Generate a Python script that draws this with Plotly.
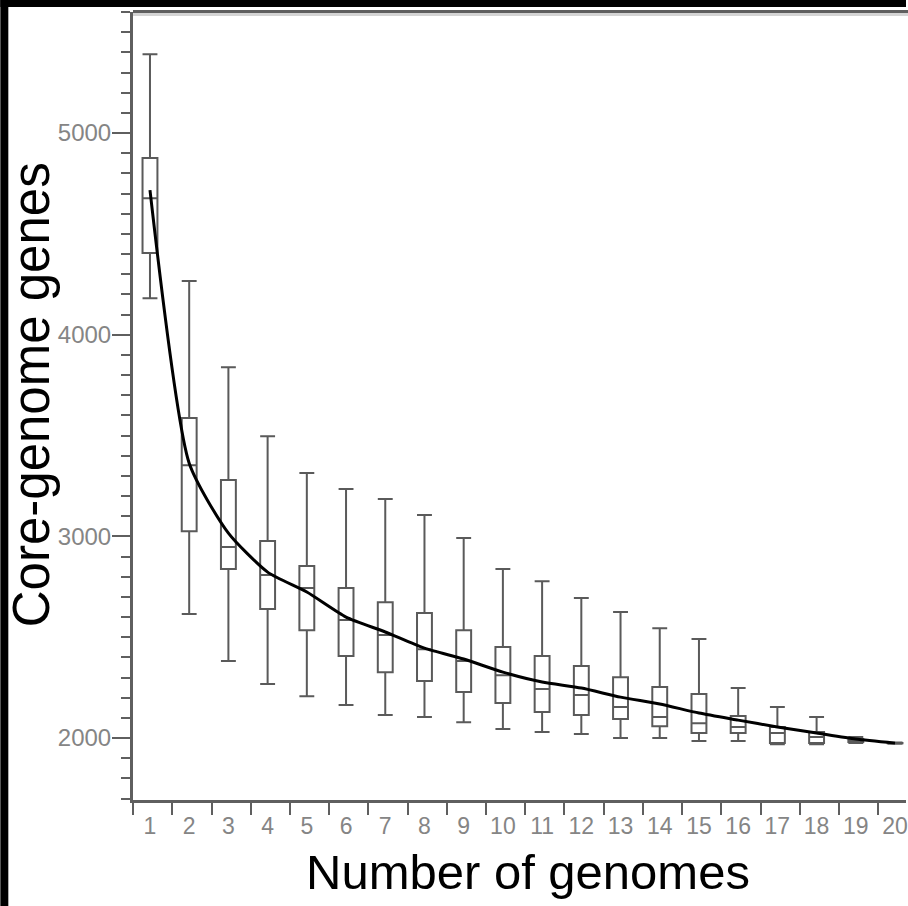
import plotly.graph_objects as go

# ---- data ----
n_genomes = list(range(1, 21))
upper_whisker = [5391, 4266, 3839, 3497, 3314, 3235, 3185, 3106, 2992, 2838,
                 2778, 2694, 2625, 2545, 2491, 2248, 2154, 2104, 2005, 1978]
q3_values = [4876, 3587, 3279, 2977, 2853, 2744, 2674, 2620, 2535, 2451,
             2407, 2357, 2302, 2253, 2218, 2109, 2055, 2030, 1995, 1976]
median_values = [4677, 3353, 2947, 2808, 2744, 2585, 2511, 2441, 2382, 2312,
                 2243, 2213, 2154, 2104, 2074, 2055, 2025, 2005, 1985, 1975]
q1_values = [4405, 3026, 2838, 2640, 2535, 2407, 2327, 2283, 2228, 2174,
             2129, 2114, 2094, 2059, 2025, 2025, 1975, 1975, 1980, 1974]
lower_whisker = [4181, 2615, 2382, 2268, 2208, 2164, 2114, 2104, 2079, 2045,
                 2030, 2020, 2000, 2000, 1985, 1985, 1970, 1970, 1975, 1972]
mean_values = [4717, 3363, 3016, 2823, 2724, 2600, 2526, 2446, 2392, 2327,
               2278, 2248, 2203, 2169, 2124, 2089, 2055, 2025, 1995, 1975]
y_tick_values = [2000, 3000, 4000, 5000]
y_tick_labels = ["2000", "3000", "4000", "5000"]
x_tick_labels = [str(n) for n in n_genomes]

# ---- layout geometry (pixels) ----
W, H = 908, 906
L, R, T, B = 133, 0, 12, 106
PW, PH = W - L - R, H - T - B


def px_x(p):
    return (p - L) / PW


def px_y(p):
    return (H - B - p) / PH


axis_grey = "#5f5f5f"
label_grey = "#858585"
tick_font = "Liberation Sans Narrow, Arial Narrow, Liberation Sans, Arial, sans-serif"
title_font = "Liberation Sans, Arial, Helvetica, sans-serif"

fig = go.Figure()

fig.add_trace(go.Box(
    x=n_genomes,
    q1=q1_values,
    median=median_values,
    q3=q3_values,
    lowerfence=lower_whisker,
    upperfence=upper_whisker,
    width=0.38,
    whiskerwidth=1,
    boxpoints=False,
    fillcolor="white",
    line=dict(color="#5a5a5a", width=2),
    hoverinfo="skip",
    showlegend=False,
))

fig.add_trace(go.Scatter(
    x=n_genomes,
    y=mean_values,
    mode="lines",
    line=dict(color="black", width=3, shape="spline", smoothing=0.6),
    hoverinfo="skip",
    showlegend=False,
))

fig.update_layout(
    width=W, height=H,
    margin=dict(l=L, r=R, t=T, b=B, pad=0),
    paper_bgcolor="white",
    plot_bgcolor="white",
    showlegend=False,
    xaxis=dict(
        range=[0.567, 20.28],
        tickmode="array",
        tickvals=n_genomes,
        ticktext=x_tick_labels,
        ticks="",
        showgrid=False,
        zeroline=False,
        showline=True,
        linecolor=axis_grey,
        linewidth=3,
        tickfont=dict(family=tick_font, size=23, color=label_grey),
        ticklabelstandoff=3,
        ticklabeloverflow="allow",
        minor=dict(
            tickmode="array",
            tickvals=[n + 0.57 for n in range(0, 20)],
            ticks="outside",
            ticklen=12,
            tickwidth=2,
            tickcolor=axis_grey,
            showgrid=False,
        ),
    ),
    yaxis=dict(
        range=[1693, 5600],
        tickmode="array",
        tickvals=y_tick_values,
        ticktext=y_tick_labels,
        ticks="outside",
        ticklen=18,
        tickwidth=2,
        tickcolor=axis_grey,
        showgrid=False,
        zeroline=False,
        showline=True,
        linecolor=axis_grey,
        linewidth=3,
        tickfont=dict(family=tick_font, size=24, color=label_grey),
        ticklabelstandoff=-4,
        minor=dict(
            dtick=100,
            ticks="outside",
            ticklen=9,
            tickwidth=2,
            tickcolor=axis_grey,
            showgrid=False,
        ),
    ),
    annotations=[
        dict(text="Core-genome genes", xref="paper", yref="paper",
             x=px_x(31), y=px_y(395), xanchor="center", yanchor="middle",
             textangle=-90, showarrow=False,
             font=dict(family=title_font, size=51, color="black")),
        dict(text="Number of genomes", xref="paper", yref="paper",
             x=px_x(529), y=px_y(872), xanchor="center", yanchor="middle",
             showarrow=False,
             font=dict(family=title_font, size=49, color="black")),
    ],
    shapes=[
        # top frame line of the plot area
        dict(type="line", xref="paper", yref="paper", x0=0, x1=1.02,
             y0=px_y(14.5), y1=px_y(14.5), line=dict(color="#d4d4d4", width=3)),
        dict(type="line", xref="paper", yref="paper", x0=0, x1=1.02,
             y0=px_y(11.5), y1=px_y(11.5), line=dict(color=axis_grey, width=3)),
        # black outer border strips
        dict(type="rect", xref="paper", yref="paper", x0=px_x(0), x1=px_x(8),
             y0=px_y(H), y1=px_y(0), fillcolor="black", line=dict(width=0),
             layer="above"),
        dict(type="rect", xref="paper", yref="paper", x0=px_x(0), x1=px_x(W),
             y0=px_y(7), y1=px_y(0), fillcolor="black", line=dict(width=0),
             layer="above"),
    ],
)

fig.write_html("out.html")
